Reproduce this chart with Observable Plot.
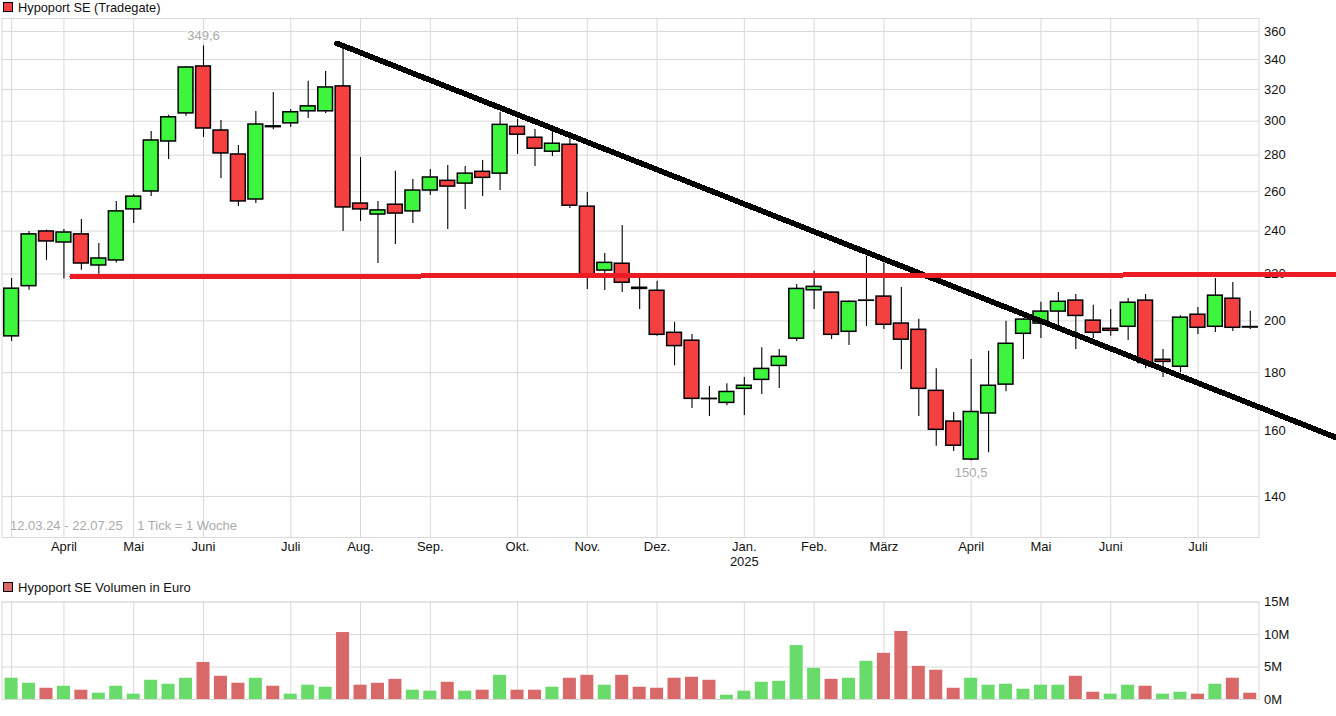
<!DOCTYPE html>
<html><head><meta charset="utf-8">
<script src="https://cdn.jsdelivr.net/npm/d3@7"></script>
<script src="https://cdn.jsdelivr.net/npm/@observablehq/plot@0.6"></script>
<style>
html,body{margin:0;padding:0;background:#fff;overflow:hidden;width:1336px;height:716px;font-family:"Liberation Sans",Arial,sans-serif;color:#111}
.t{position:absolute;left:18px;font-size:13px;line-height:14px;white-space:pre}
.s{position:absolute;left:3px;width:8px;height:8px;border:1px solid #000}
.c{position:absolute;left:0}
.c svg{display:block;background:transparent}
</style></head><body>
<div class="s" style="top:2px;background:#f44040"></div><div class="t" style="top:0.5px;font-size:12.8px">Hypoport SE (Tradegate)</div>
<div class="s" style="top:582px;background:#d96868"></div><div class="t" style="top:581px">Hypoport SE Volumen in Euro</div>
<div class="c" id="p" style="top:17px"></div>
<div class="c" id="v" style="top:594px"></div>
<script>
const opens=[193.8,214.6,239.8,234.5,238.4,223.8,226.1,250.8,260.1,287.9,304.8,335.3,294.4,280.4,255.9,296.4,298.7,306.1,306.1,322,253.8,248.2,253.2,249.8,260.6,265.8,264.3,270.7,269.7,296.6,290.1,282,286,252.2,221.5,224.6,213.4,212.6,195.2,192.1,170.6,169.3,174.2,177.4,182.5,192.9,212.8,211.8,195.6,208.3,210.1,198.9,196.4,173.5,163,150.9,165.7,175.7,194.8,198.9,203.8,208.4,200.1,196.8,197.6,208.4,184.8,182.2,202.5,197.6,209.2,197.5];
const highs=[218,239.8,240.5,240.8,245.7,234,254.9,258.5,293.8,303.6,335.3,349.6,300.5,285.6,306,318.1,307.3,325.3,331.9,348.5,278.7,254.9,271,266.5,272,274.2,273.7,277,305.5,301.1,295,294.4,290.3,259.6,229.3,242.7,218.9,216.7,199.4,194.5,175,176,178.3,189.4,188.7,215.3,221.2,212,208.2,228,224.9,214,200.6,181.5,166,184.9,188,199.8,201,207.7,211.9,211,206.4,204.7,209.3,211,188.7,202.1,205.5,218,216.2,203.9];
const lows=[191.8,212.8,226.1,217.7,221.6,219.8,224.9,243.7,257.4,277.6,303,290.3,267.1,252.3,253.8,294.9,296.2,301.7,304.8,239.8,244.7,224.7,233.6,243.7,258,240.8,250.8,257.4,260.6,280.4,273.7,279.3,251.3,213.1,212.7,211.9,204.7,193.8,182.6,167.4,164.7,168.3,165,172.2,174.3,191.8,204.7,192.6,190.2,197.7,196.5,181.2,164.7,155,153.4,150.5,153,173.2,184.9,193,197.7,188.7,193,193.8,192.2,181.5,178.3,180,194.5,195.3,195.7,196.5];
const closes=[213.5,238.4,235,239.3,224.7,227,249.8,257.4,288.5,302.4,334.6,295.6,281,254.9,298,296.9,305.5,309.2,321.3,251.8,250.8,250.3,248.7,260.6,267.6,262.7,269.7,267.4,297.8,291.9,283.7,286.6,252.7,218.8,225,216.1,213.9,194.4,190,170.7,170.7,173.1,175.3,181.4,185.9,213.4,214.3,194.4,207.9,208.4,198.4,192.5,174.2,160.3,155.2,166.2,175.3,190.9,200.5,203.8,207.9,202,195.2,196,207.5,183.6,184,201.3,197.2,210.5,197.2,197.3];
const volumes=[3.27,2.5,1.73,2.04,1.43,0.97,2.04,0.82,2.96,2.35,3.27,5.7,3.57,2.5,3.27,2.04,0.82,2.2,1.89,10.3,2.2,2.5,3.1,1.43,1.28,2.65,1.28,1.43,3.72,1.43,1.43,1.89,3.27,3.72,2.2,3.72,1.89,1.73,3.27,3.42,2.96,0.66,1.28,2.65,2.8,8.3,4.8,3.1,3.27,5.87,7.1,10.46,5.1,4.5,1.73,3.27,2.2,2.35,1.58,2.2,2.2,3.57,1.12,0.82,2.2,2.04,0.82,1.12,0.82,2.35,3.27,0.97];
const volumeDown=[2,4,11,12,13,15,19,20,21,22,25,27,29,30,32,33,35,36,37,38,39,40,47,50,51,52,53,54,61,62,65,68,70,71];
const monthIdx=[3,7,11,16,20,24,29,33,37,42,46,50,55,59,63,68];
const monthNames=["April","Mai","Juni","Juli","Aug.","Sep.","Okt.","Nov.","Dez.","Jan.\n2025","Feb.","März","April","Mai","Juni","Juli"];
const gridIdx=[0,...monthIdx];
const priceTicks=[140,160,180,200,220,240,260,280,300,320,340,360];
const volumeTicks=[0,5,10,15];
const trendX=[18.65,75.92], trendY=[351.4,157.8];
const supportX=[3.46,75.92], supportY=[218.85,219.65];
const highLabel=[{i:11,v:349.6,t:"349,6"}], lowLabel=[{i:55,v:150.5,t:"150,5"}];
const rangeNote="12.03.24 - 22.07.25\u00a0\u00a0\u00a0 1 Tick = 1 Woche";

const xDomain=[-0.55,71.5], hw=0.424, hv=0.373;
const GRID="#d9d9d9", FS="13px", FF='"Liberation Sans",Arial,sans-serif';
const candles=opens.map((o,i)=>({i,open:o,high:highs[i],low:lows[i],close:closes[i]}));
const vols=volumes.map((v,i)=>({i,v,down:volumeDown.includes(i)}));
const line=(xs,ys)=>xs.map((x,k)=>({x,y:ys[k]}));

const price=Plot.plot({
  width:1336,height:560,marginLeft:1.5,marginRight:77.5,marginTop:1,marginBottom:40,
  style:{fontFamily:FF,fontSize:FS,color:"#111",overflow:"hidden"},
  x:{domain:xDomain},
  y:{type:"log",domain:[128.8,369.6]},
  marks:[
    Plot.gridX(gridIdx,{stroke:GRID,strokeOpacity:1}),
    Plot.gridY(priceTicks,{stroke:GRID,strokeOpacity:1}),
    Plot.frame({stroke:GRID}),
    Plot.axisX({ticks:monthIdx,tickSize:0,tickPadding:3,label:null,lineHeight:1.15,tickFormat:d=>monthNames[monthIdx.indexOf(d)]}),
    Plot.axisY({ticks:priceTicks,anchor:"right",tickSize:0,tickPadding:5,label:null,tickFormat:d=>String(d)}),
    Plot.text([rangeNote],{frameAnchor:"bottom-left",dx:8,dy:-8,fill:"#aaa",textAnchor:"start"}),
    Plot.text(highLabel,{x:"i",y:"v",text:"t",dy:-10,fill:"#aaa",stroke:"white",strokeWidth:3}),
    Plot.text(lowLabel,{x:"i",y:"v",text:"t",dy:12,fill:"#aaa",stroke:"white",strokeWidth:3}),
    Plot.ruleX(candles,{x:"i",y1:"low",y2:"high",stroke:"#000",strokeWidth:1.1}),
    Plot.rect(candles,{x1:d=>d.i-hw,x2:d=>d.i+hw,y1:"open",y2:"close",fill:d=>d.close>=d.open?"#3df53d":"#f44040",stroke:"#000",strokeWidth:1.5}),
    Plot.line(line(trendX,trendY),{x:"x",y:"y",stroke:"#000",strokeWidth:5.6,shapeRendering:"crispEdges"}),
    Plot.line(line(supportX,supportY),{x:"x",y:"y",stroke:"#ed1c24",strokeWidth:5,shapeRendering:"crispEdges"})
  ]
});
document.getElementById("p").append(price);

const volume=Plot.plot({
  width:1336,height:122,marginLeft:1.5,marginRight:77.5,marginTop:7.5,marginBottom:17,
  style:{fontFamily:FF,fontSize:FS,color:"#111"},
  x:{domain:xDomain,axis:null},
  y:{domain:[0,15]},
  marks:[
    Plot.gridX(gridIdx,{stroke:GRID,strokeOpacity:1}),
    Plot.gridY(volumeTicks,{stroke:GRID,strokeOpacity:1}),
    Plot.frame({stroke:GRID}),
    Plot.axisY({ticks:volumeTicks,anchor:"right",tickSize:0,tickPadding:5,label:null,tickFormat:d=>d+"M"}),
    Plot.rectY(vols,{x1:d=>d.i-hv,x2:d=>d.i+hv,y1:0,y2:"v",fill:d=>d.down?"#d96868":"#69db6b"})
  ]
});
document.getElementById("v").append(volume);
</script>
</body></html>
